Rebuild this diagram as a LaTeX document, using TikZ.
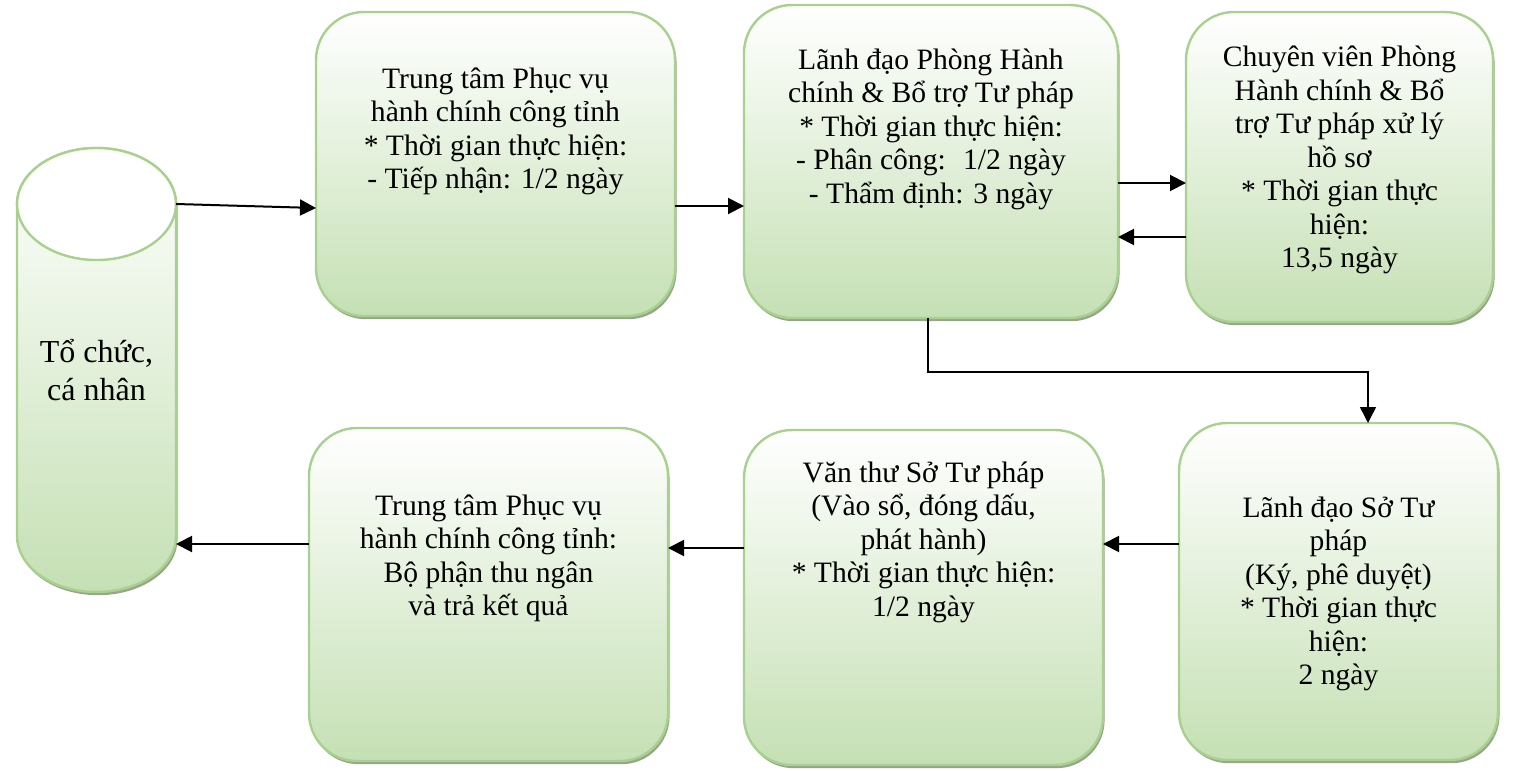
\documentclass[tikz,border=0pt]{standalone}
\usepackage{fontspec}
\setmainfont{Liberation Serif}
\usetikzlibrary{shapes.geometric, arrows.meta, positioning, shadows, backgrounds}
\definecolor{boxgreen}{RGB}{197,224,180}
\definecolor{boxline}{RGB}{169,209,142}
\definecolor{shadowgray}{RGB}{155,162,148}
\tikzstyle{box} = [rectangle, rounded corners=24pt, outer sep=0pt, draw=boxline, line width=1.2pt, top color=white, bottom color=boxgreen, drop shadow={shadow xshift=0.8pt, shadow yshift=-1.6pt, fill=shadowgray, opacity=1}]
\tikzstyle{txt} = [align=center, inner sep=0pt, outer sep=0pt, font=\fontsize{14.8pt}{16.75pt}\selectfont]
\tikzstyle{cylline} = [draw=boxline, line width=1.2pt, top color=white, bottom color=boxgreen, drop shadow={shadow xshift=0.8pt, shadow yshift=-1.6pt, fill=shadowgray, opacity=1}]
\tikzstyle{arrow} = [line width=1pt,-{Triangle[length=8pt,width=8pt]}]
\tikzstyle{elbow} = [line width=0.8pt,-{Triangle[length=8pt,width=8pt]}]

\begin{document}
\begin{tikzpicture}[x=0.5pt, y=0.5pt]
    \useasboundingbox (0,0) rectangle (1521,-771);
    \node (a) [box, minimum width=179.5pt, minimum height=152pt] at (495.5,-164) {};
    \node (atext) [txt, below=27.9pt of a.north] {Trung tâm Phục vụ\\ hành chính công tỉnh\\ * Thời gian thực hiện:\\ - Tiếp nhận: 1/2 ngày};
    \node (b) [box, minimum width=187pt, minimum height=156.5pt, right=34.5pt of a, yshift=1.25pt] {};
    \node (btext) [txt, below=21.9pt of b.north] {Lãnh đạo Phòng Hành\\ chính \& Bổ trợ Tư pháp\\ * Thời gian thực hiện:\\ - Phân công: ~1/2 ngày\\ - Thẩm định: 3 ngày};
    \node (c) [box, minimum width=153.5pt, minimum height=155pt, right=34pt of b, yshift=-2.75pt] {};
    \node (ctext) [txt, below=17pt of c.north] {Chuyên viên Phòng\\ Hành chính \& Bổ\\ trợ Tư pháp xử lý\\ hồ sơ\\ * Thời gian thực\\ hiện:\\ 13,5 ngày};
    \node (d) [box, minimum width=159.5pt, minimum height=168.5pt, below=50.5pt of c, xshift=-0.5pt] {};
    \node (dtext) [txt, below=36.75pt of d.north] {Lãnh đạo Sở Tư\\ pháp\\ (Ký, phê duyệt)\\ * Thời gian thực\\ hiện:\\ 2 ngày};
    \node (e) [box, minimum width=179.5pt, minimum height=167.5pt, left=38pt of d, yshift=-3pt] {};
    \node (etext) [txt, below=15.9pt of e.north] {Văn thư Sở Tư pháp\\ (Vào sổ, đóng dấu,\\ phát hành)\\ * Thời gian thực hiện:\\ 1/2 ngày};
    \node (f) [box, minimum width=179.5pt, minimum height=166.5pt, left=38pt of e, yshift=1.5pt] {};
    \node (ftext) [txt, below=33.4pt of f.north] {Trung tâm Phục vụ\\ hành chính công tỉnh:\\ Bộ phận thu ngân\\ và trả kết quả};
    \node (cyl) [txt, font=\fontsize{16pt}{19pt}\selectfont, minimum width=79.5pt, minimum height=222pt] at (96.5,-370) {Tổ chức,\\ cá nhân};
    \begin{pgfonlayer}{background}
    \draw [cylline] ([yshift=-28pt]cyl.north west) -- ([yshift=28pt]cyl.south west) arc [start angle=180, end angle=360, x radius=39.75pt, y radius=28pt] -- ([yshift=-28pt]cyl.north east) arc [start angle=0, end angle=180, x radius=39.75pt, y radius=28pt] -- cycle;
    \draw [draw=boxline, line width=1.2pt, fill=white] ([yshift=-28pt]cyl.north) ellipse [x radius=39.75pt, y radius=28pt];
    \end{pgfonlayer}

    \draw [arrow] ([yshift=-28pt]cyl.north east) -- ([yshift=-22pt]a.west);
    \draw [arrow] ([yshift=-21pt]a.east) -- ([yshift=-22.25pt]b.west);
    \draw [arrow] ([yshift=-10.75pt]b.east) -- ([yshift=-8pt]c.west);
    \draw [arrow] ([yshift=-35pt]c.west) -- ([yshift=-37.75pt]b.east);
    \draw [elbow] ([xshift=-1.5pt]b.south) -- ++(0,-27pt) -| ([xshift=14.75pt]d.north);
    \draw [arrow] ([yshift=23.75pt]d.west) -- ([yshift=26.75pt]e.east);
    \draw [arrow] ([yshift=24.75pt]e.west) -- ([yshift=23.25pt]f.east);
    \draw [arrow] ([yshift=25.25pt]f.west) -- ([yshift=-87pt]cyl.east);
\end{tikzpicture}
\end{document}
